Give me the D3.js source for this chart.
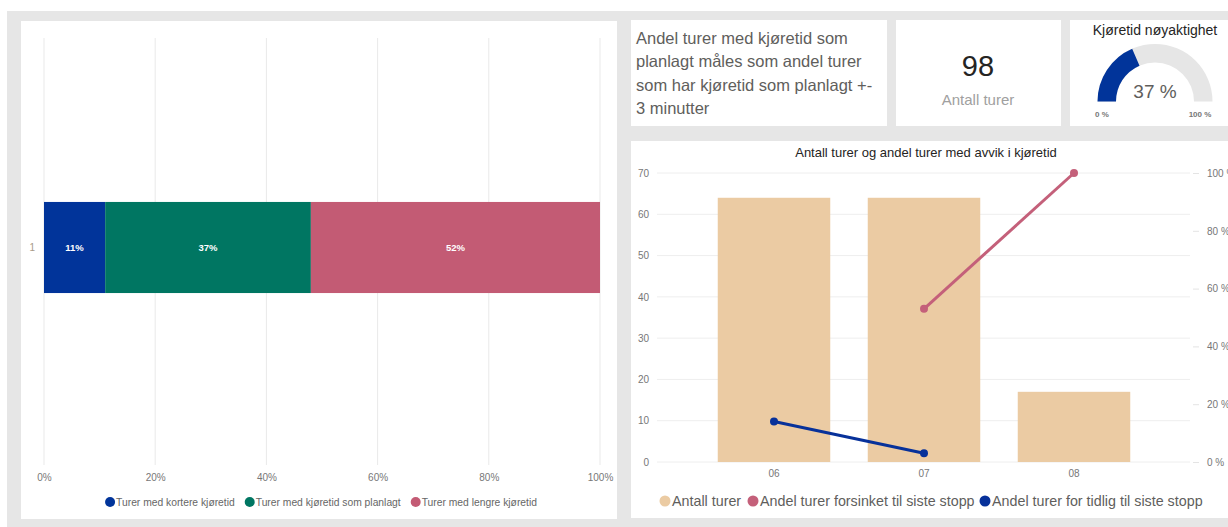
<!DOCTYPE html>
<html><head><meta charset="utf-8">
<script src="https://cdn.jsdelivr.net/npm/d3@7"></script>
<style>
html,body{margin:0;padding:0;background:#fff;}
svg{display:block;font-family:"Segoe UI","Liberation Sans",Arial,sans-serif;}
</style></head>
<body>
<svg id="c" width="1228" height="527"></svg>
<script>
// ---- Data ----
const stackCategories = ["1"];
const stackSeries = ["Turer med kortere kjøretid","Turer med kjøretid som planlagt","Turer med lengre kjøretid"];
const stackValues = [0.11, 0.37, 0.52];
const stackTicks = [0, 0.2, 0.4, 0.6, 0.8, 1.0];

const infoText = ["Andel turer med kjøretid som","planlagt måles som andel turer","som har kjøretid som planlagt +-","3 minutter"];
const kpiValue = 98;
const kpiLabel = "Antall turer";
const gaugeTitle = "Kjøretid nøyaktighet";
const gaugeValue = 0.37;

const comboTitle = "Antall turer og andel turer med avvik i kjøretid";
const hours = ["06","07","08"];
const antallTurer = [64, 64, 17];
const andelForsinket = [null, 0.53, 1.00];
const andelTidlig = [0.14, 0.03, null];
const leftTicks = [0,10,20,30,40,50,60,70];
const rightTicks = [0,0.2,0.4,0.6,0.8,1.0];
const comboSeries = ["Antall turer","Andel turer forsinket til siste stopp","Andel turer for tidlig til siste stopp"];

const stackColors = ["#01349A","#007662","#C35B74"];
const comboColors = ["#EBCBA3","#C4607A","#07319A"];

const svg = d3.select("#c");
svg.append("rect").attr("x",7).attr("y",11).attr("width",1221).attr("height",516).attr("fill","#e6e6e6");

// ---- Left panel: stacked 100% bar ----
svg.append("rect").attr("x",21).attr("y",21).attr("width",596).attr("height",498).attr("fill","#fff");
const lx = d3.scaleLinear().domain([0,1]).range([44,600]);
const ly = d3.scaleBand().domain(stackCategories).range([38,457]).paddingInner(0).paddingOuter(1.8);
const gl = svg.append("g");
gl.selectAll("line.grid").data(stackTicks).enter().append("line")
  .attr("x1",d=>lx(d)).attr("x2",d=>lx(d)).attr("y1",38).attr("y2",465)
  .attr("stroke","#e9e9e9").attr("stroke-width",1);
const xAxisL = d3.axisBottom(lx).tickValues(stackTicks).tickFormat(d3.format(".0%")).tickSize(0);
const gxl = gl.append("g").attr("transform","translate(0,471)").call(xAxisL);
gxl.select(".domain").remove();
gxl.selectAll("text").attr("fill","#777").attr("font-size",10).attr("font-family","Segoe UI, Liberation Sans, Arial, sans-serif");
const yAxisL = d3.axisLeft(ly).tickSize(0).tickPadding(9);
const gyl = gl.append("g").attr("transform","translate(44,0)").call(yAxisL);
gyl.select(".domain").remove();
gyl.selectAll("text").attr("fill","#a89a88").attr("font-size",10).attr("font-family","Segoe UI, Liberation Sans, Arial, sans-serif");

const cum = d3.cumsum(stackValues);
const segs = stackValues.map((v,i)=>({v, x0: i?cum[i-1]:0, x1: cum[i], c: stackColors[i]}));
gl.selectAll("rect.seg").data(segs).enter().append("rect")
  .attr("x",d=>lx(d.x0)).attr("width",d=>lx(d.x1)-lx(d.x0))
  .attr("y",ly("1")).attr("height",ly.bandwidth()).attr("fill",d=>d.c);
gl.selectAll("text.lbl").data(segs).enter().append("text")
  .attr("x",d=>(lx(d.x0)+lx(d.x1))/2).attr("y",ly("1")+ly.bandwidth()/2+3.5)
  .attr("text-anchor","middle").attr("fill","#fff").attr("font-size",9.5).attr("font-weight","bold")
  .text(d=>d3.format(".0%")(d.v));

// left legend (laid out from measured text widths, centred)
const legG = gl.append("g");
const items = stackSeries.map((s,i)=>{
  const g = legG.append("g");
  g.append("circle").attr("cx",0).attr("cy",502).attr("r",5).attr("fill",stackColors[i]);
  const t = g.append("text").attr("x",6).attr("y",505.5).attr("font-size",10.3).attr("fill","#666").text(s);
  return {g, w: 6 + t.node().getComputedTextLength()};
});
const gap = 10;
const totalW = d3.sum(items, d=>d.w + 5) + gap*(items.length-1);
let xpos = 321 - totalW/2 + 5;
items.forEach(it=>{ it.g.attr("transform",`translate(${xpos},0)`); xpos += it.w + gap + 5; });

// ---- Info text box ----
svg.append("rect").attr("x",631).attr("y",20).attr("width",256).attr("height",106).attr("fill","#fff");
svg.append("g").selectAll("text").data(infoText).enter().append("text")
  .attr("x",636).attr("y",(d,i)=>44+i*23.3).attr("font-size",16.5).attr("fill","#605e5c").text(d=>d);

// ---- KPI card ----
svg.append("rect").attr("x",896).attr("y",20).attr("width",165).attr("height",106).attr("fill","#fff");
svg.append("text").attr("x",978).attr("y",76).attr("text-anchor","middle").attr("font-size",29).attr("fill","#252423").text(kpiValue);
svg.append("text").attr("x",978).attr("y",105).attr("text-anchor","middle").attr("font-size",15).attr("fill","#a0a0a0").text(kpiLabel);

// ---- Gauge ----
svg.append("rect").attr("x",1070).attr("y",20).attr("width",158).attr("height",106).attr("fill","#fff");
svg.append("text").attr("x",1155).attr("y",35).attr("text-anchor","middle").attr("font-size",14).attr("fill","#252423").text(gaugeTitle);
const ga = d3.scaleLinear().domain([0,1]).range([-Math.PI/2, Math.PI/2]);
const arc = d3.arc().innerRadius(39).outerRadius(57.5);
const gg = svg.append("g").attr("transform","translate(1155,101.5)");
gg.append("path").attr("d",arc({startAngle:ga(0),endAngle:ga(1)})).attr("fill","#e6e6e6");
gg.append("path").attr("d",arc({startAngle:ga(0),endAngle:ga(gaugeValue)})).attr("fill","#01349A");
gg.append("text").attr("x",0).attr("y",-3.5).attr("text-anchor","middle").attr("font-size",19).attr("fill","#605e5c").text(d3.format(".0%")(gaugeValue).replace("%"," %"));
gg.append("text").attr("x",-53).attr("y",15).attr("text-anchor","middle").attr("font-size",8).attr("fill","#777").attr("font-weight","bold").text("0 %");
gg.append("text").attr("x",45).attr("y",15).attr("text-anchor","middle").attr("font-size",8).attr("fill","#777").attr("font-weight","bold").text("100 %");

// ---- Combo chart ----
svg.append("rect").attr("x",631).attr("y",141).attr("width",597).attr("height",377).attr("fill","#fff");
svg.append("text").attr("x",926).attr("y",157).attr("text-anchor","middle").attr("font-size",13).attr("fill","#252423").text(comboTitle);
const cx = d3.scaleBand().domain(hours).range([699,1149]).paddingInner(0.25).paddingOuter(0.125);
const cyL = d3.scaleLinear().domain([0,70]).range([462,173]);
const cyR = d3.scaleLinear().domain([0,1]).range([462,173]);
const gc = svg.append("g");
gc.selectAll("line.grid").data(leftTicks).enter().append("line")
  .attr("x1",657).attr("x2",1190).attr("y1",d=>cyL(d)).attr("y2",d=>cyL(d)).attr("stroke","#eeeeee");
const gya = gc.append("g").attr("transform","translate(649,0)").call(d3.axisLeft(cyL).tickValues(leftTicks).tickSize(0).tickPadding(0));
gya.select(".domain").remove();
gya.selectAll("text").attr("fill","#777").attr("font-size",10).attr("font-family","Segoe UI, Liberation Sans, Arial, sans-serif");
const gyr = gc.append("g").attr("transform","translate(1199,0)").call(d3.axisRight(cyR).tickValues(rightTicks).tickSize(-6).tickPadding(8).tickFormat(d=>Math.round(d*100)+" %"));
gyr.select(".domain").remove();
gyr.selectAll("line").attr("stroke","#e4e4e4");
gyr.selectAll("text").attr("fill","#777").attr("font-size",10).attr("font-family","Segoe UI, Liberation Sans, Arial, sans-serif");
const gxa = gc.append("g").attr("transform","translate(0,470)").call(d3.axisBottom(cx).tickSize(0).tickPadding(0));
gxa.select(".domain").remove();
gxa.selectAll("text").attr("fill","#777").attr("font-size",10).attr("dy","0.71em").attr("font-family","Segoe UI, Liberation Sans, Arial, sans-serif");

gc.selectAll("rect.bar").data(hours).enter().append("rect")
  .attr("x",d=>cx(d)).attr("width",cx.bandwidth())
  .attr("y",(d,i)=>cyL(antallTurer[i])).attr("height",(d,i)=>cyL(0)-cyL(antallTurer[i]))
  .attr("fill",comboColors[0]);

function drawLine(vals,color){
  const pts = hours.map((h,i)=>({h,v:vals[i]})).filter(p=>p.v!==null);
  const line = d3.line().x(p=>cx(p.h)+cx.bandwidth()/2).y(p=>cyR(p.v));
  gc.append("path").attr("d",line(pts)).attr("fill","none").attr("stroke",color).attr("stroke-width",3);
  gc.selectAll(null).data(pts).enter().append("circle")
    .attr("cx",p=>cx(p.h)+cx.bandwidth()/2).attr("cy",p=>cyR(p.v)).attr("r",4).attr("fill",color);
}
drawLine(andelForsinket, comboColors[1]);
drawLine(andelTidlig, comboColors[2]);

const legC = [665, 753, 985];
comboSeries.forEach((s,i)=>{
  gc.append("circle").attr("cx",legC[i]).attr("cy",501).attr("r",5.5).attr("fill",comboColors[i]);
  gc.append("text").attr("x",legC[i]+7).attr("y",506).attr("font-size",14.3).attr("fill","#605e5c").text(s);
});
</script>
</body></html>
